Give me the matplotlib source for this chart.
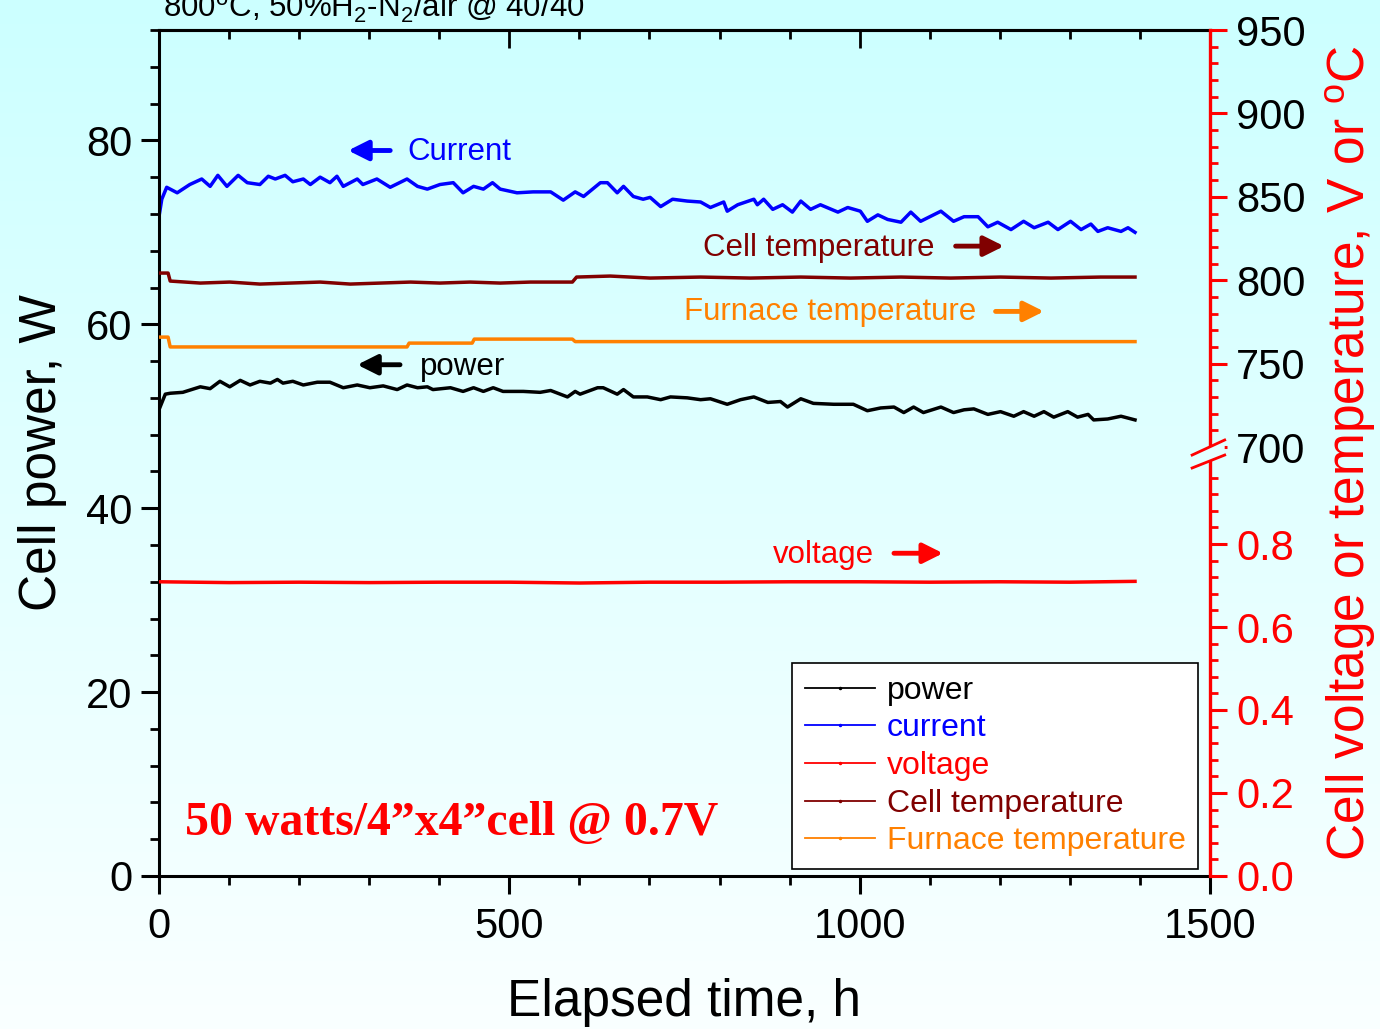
import numpy as np
import matplotlib.pyplot as plt
from matplotlib.lines import Line2D
from matplotlib.ticker import FixedLocator, MultipleLocator, FuncFormatter

plt.rcParams['font.family'] = ['Liberation Sans', 'DejaVu Sans']
plt.rcParams['mathtext.fontset'] = 'custom'
plt.rcParams['mathtext.rm'] = 'Liberation Sans'
plt.rcParams['mathtext.it'] = 'Liberation Sans:italic'

# ---- data (time in h) ----
t_cur = [0, 4, 11, 26, 44, 61, 73, 84, 97, 113, 126, 144, 156, 166, 180, 191, 206, 216, 230, 244,
         254, 263, 283, 291, 311, 330, 354, 369, 383, 401, 420, 434, 449, 463, 476, 487, 511, 534,
         559, 577, 594, 606, 630, 640, 654, 663, 677, 691, 701, 716, 733, 754, 773, 787, 806, 811,
         826, 849, 854, 863, 876, 890, 904, 916, 930, 944, 969, 983, 1001, 1011, 1026, 1040, 1059,
         1073, 1087, 1116, 1134, 1149, 1169, 1183, 1197, 1216, 1234, 1249, 1269, 1283, 1301, 1316,
         1330, 1340, 1354, 1373, 1383, 1393]
current = [71.7, 73.6, 74.9, 74.3, 75.2, 75.8, 75.0, 76.2, 75.0, 76.2, 75.4, 75.2, 76.1, 75.8, 76.2,
           75.5, 75.8, 75.2, 76.0, 75.4, 76.1, 75.0, 75.8, 75.2, 75.8, 74.9, 75.8, 75.0, 74.7, 75.2,
           75.4, 74.3, 75.0, 74.7, 75.4, 74.7, 74.3, 74.4, 74.4, 73.5, 74.4, 73.9, 75.4, 75.4, 74.3,
           75.0, 73.9, 73.6, 73.8, 72.8, 73.6, 73.4, 73.3, 72.7, 73.3, 72.3, 73.0, 73.6, 73.0, 73.6,
           72.5, 73.0, 72.2, 73.4, 72.5, 73.0, 72.2, 72.7, 72.3, 71.2, 71.9, 71.4, 71.1, 72.2, 71.2,
           72.3, 71.2, 71.7, 71.7, 70.6, 71.1, 70.3, 71.2, 70.5, 71.1, 70.3, 71.2, 70.3, 70.9, 70.1,
           70.5, 70.1, 70.5, 70.0]

t_pow = [0, 9, 16, 34, 59, 73, 87, 101, 116, 130, 144, 159, 169, 177, 191, 206, 226, 244, 263, 283,
         301, 320, 340, 354, 369, 383, 391, 416, 434, 449, 463, 477, 491, 520, 544, 559, 583, 594,
         601, 626, 634, 654, 663, 677, 697, 716, 730, 754, 773, 787, 811, 830, 849, 869, 887, 897,
         916, 934, 963, 991, 1011, 1030, 1049, 1063, 1077, 1091, 1116, 1134, 1149, 1163, 1183, 1201,
         1220, 1234, 1249, 1263, 1277, 1297, 1311, 1326, 1334, 1354, 1373, 1393]
power = [50.7, 52.4, 52.5, 52.6, 53.2, 53.0, 53.8, 53.2, 53.9, 53.4, 53.8, 53.6, 54.0, 53.6, 53.8,
         53.4, 53.7, 53.7, 53.1, 53.4, 53.1, 53.3, 52.9, 53.4, 53.1, 53.2, 52.9, 53.1, 52.7, 53.1,
         52.7, 53.1, 52.7, 52.7, 52.6, 52.8, 52.1, 52.7, 52.4, 53.1, 53.1, 52.4, 52.9, 52.1, 52.1,
         51.8, 52.1, 52.0, 51.8, 51.9, 51.3, 51.8, 52.1, 51.5, 51.6, 51.0, 51.9, 51.4, 51.3, 51.3,
         50.6, 50.9, 51.0, 50.4, 51.0, 50.4, 51.0, 50.4, 50.7, 50.8, 50.2, 50.5, 50.0, 50.5, 50.0,
         50.5, 49.9, 50.5, 49.9, 50.2, 49.6, 49.7, 50.0, 49.6]

t_cell = [0, 13, 16, 59, 101, 144, 187, 230, 273, 316, 359, 401, 444, 487, 530, 590, 596, 644, 701,
          773, 844, 916, 987, 1059, 1130, 1201, 1273, 1344, 1393]
cell_temp = [804.3, 804.3, 799.5, 798.3, 798.9, 797.7, 798.3, 798.9, 797.7, 798.3, 798.9, 798.3,
             798.9, 798.3, 798.9, 798.9, 801.9, 802.5, 801.3, 801.9, 801.3, 801.9, 801.3, 801.9,
             801.3, 801.9, 801.3, 801.9, 801.9]

t_furn = [0, 13, 16, 130, 244, 354, 357, 447, 450, 590, 594, 773, 1059, 1393]
furnace_temp = [765.9, 765.9, 760.0, 760.0, 760.0, 760.0, 762.3, 762.3, 764.7, 764.7, 763.2, 763.2,
                763.2, 763.2]

t_volt = [0, 100, 200, 300, 400, 500, 600, 700, 800, 900, 1000, 1100, 1200, 1300, 1393]
voltage = [0.709, 0.707, 0.708, 0.707, 0.708, 0.708, 0.706, 0.708, 0.708, 0.709, 0.709, 0.708,
           0.709, 0.708, 0.710]

left_ticks = [0, 20, 40, 60, 80]
volt_ticks = [0.0, 0.2, 0.4, 0.6, 0.8]
temp_ticks = [700, 750, 800, 850, 900, 950]
x_ticks = [0, 500, 1000, 1500]

BLUE = '#0000FF'
RED = '#FF0000'
DRED = '#800000'
ORANGE = '#FF8000'


# broken right axis: voltage 0..~1.03 on the lower half, 700..950 C on top
def fwd(y):
    y = np.asarray(y, float)
    return np.where(y < 350, y * 415.0, 429.0 + (y - 700.0) * 417.0 / 250.0)


def inv(p):
    p = np.asarray(p, float)
    return np.where(p <= 429.0, p / 415.0, 700.0 + (p - 429.0) * 250.0 / 417.0)


fig = plt.figure(figsize=(13.8, 10.29), dpi=100)

# light cyan gradient background
bg = fig.add_axes([0, 0, 1, 1], zorder=-10)
g = np.linspace(0, 1, 256)[:, None]
img = np.dstack([0.80 + 0.18 * g, np.ones_like(g), np.ones_like(g)])
bg.imshow(img, aspect='auto', extent=[0, 1, 0, 1], origin='upper')
bg.axis('off')

ax = fig.add_axes([0.1152, 0.1487, 0.7616, 0.8221])
ax.patch.set_alpha(0)
ax2 = ax.twinx()
ax2.patch.set_alpha(0)

ax.plot(t_cur, current, color=BLUE, lw=2.5)
ax.plot(t_pow, power, color='black', lw=2.5)
ax2.plot(t_volt, voltage, color=RED, lw=2.5)
ax2.plot(t_cell, cell_temp, color=DRED, lw=2.5)
ax2.plot(t_furn, furnace_temp, color=ORANGE, lw=2.5)

ax.set_xlim(0, 1500)
ax.set_ylim(0, 92)
ax.set_xticks(x_ticks)
ax.xaxis.set_minor_locator(MultipleLocator(100))
ax.set_yticks(left_ticks)
ax.yaxis.set_minor_locator(MultipleLocator(4))
ax.tick_params(which='major', direction='out', length=13, width=2.2, labelsize=30, pad=6)
ax.tick_params(which='minor', direction='out', length=6.5, width=2.0)
ax.tick_params(axis='x', which='major', pad=9)
for s in ['left', 'bottom', 'top']:
    ax.spines[s].set_linewidth(2.2)
ax.spines['right'].set_visible(False)

top = ax.secondary_xaxis('top')
top.set_xticks(x_ticks)
top.xaxis.set_minor_locator(MultipleLocator(100))
top.tick_params(which='major', direction='in', length=13, width=2.0, labeltop=False)
top.tick_params(which='minor', direction='in', length=6.5, width=2.0)
top.spines['top'].set_linewidth(2.2)

ax.set_xlabel('Elapsed time, h', fontsize=37, labelpad=23)
ax.set_ylabel('Cell power, W', fontsize=37, labelpad=14)

ax2.set_yscale('function', functions=(fwd, inv))
ax2.set_ylim(0, 950)
ax2.yaxis.set_major_locator(FixedLocator(volt_ticks + temp_ticks))
minor_v = [round(0.04 * i, 2) for i in range(1, 26) if i % 5]
minor_t = [v for v in range(710, 950, 10) if v % 50]
ax2.yaxis.set_minor_locator(FixedLocator(minor_v + minor_t))
ax2.yaxis.set_major_formatter(FuncFormatter(lambda v, p: f'{v:.1f}' if v < 100 else f'{v:.0f}'))
ax2.tick_params(which='major', direction='out', length=12, width=2.2, labelsize=30, pad=7, color=RED)
ax2.tick_params(which='minor', direction='out', length=6, width=2.0, color=RED)
for s in ['left', 'bottom', 'top']:
    ax2.spines[s].set_visible(False)
ax2.spines['right'].set_color(RED)
ax2.spines['right'].set_linewidth(2.4)
for lab, v in zip(ax2.get_yticklabels(), volt_ticks + temp_ticks):
    lab.set_color(RED if v < 100 else 'black')
ax2.set_ylabel(r'Cell voltage or temperature, V or $^{\rm o}$C', fontsize=37, color=RED,
               labelpad=12)

# axis break marks on the right spine
tr = ax2.transAxes
bgc = (0.89, 1, 1)
ax2.add_patch(plt.Polygon([(0.983, 0.4976), (1.014, 0.5154), (1.014, 0.4976), (0.983, 0.4823)],
                          closed=True, transform=tr, facecolor=bgc, edgecolor='none',
                          clip_on=False, zorder=5))
ax2.plot([0.983, 1.014], [0.4976, 0.5154], transform=tr, color=RED, lw=2, clip_on=False, zorder=6)
ax2.plot([0.983, 1.014], [0.4823, 0.4976], transform=tr, color=RED, lw=2, clip_on=False, zorder=6)


def tag(axis, x, y, text, color, x0, x1, ay):
    axis.text(x, y, text, color=color, fontsize=22.5, va='center')
    axis.annotate('', xy=(x1, ay), xytext=(x0, ay),
                  arrowprops=dict(arrowstyle='-|>,head_length=0.8,head_width=0.4', lw=3.5,
                                  color=color, mutation_scale=15, shrinkA=0, shrinkB=0))


tag(ax, 354, 78.7, 'Current', BLUE, 330, 270, 78.9)
tag(ax, 777, 68.35, 'Cell temperature', DRED, 1137, 1206, 68.5)
tag(ax, 749, 61.3, 'Furnace temperature', ORANGE, 1194, 1263, 61.4)
tag(ax, 373, 55.4, 'power', 'black', 344, 283, 55.6)
tag(ax, 876, 34.9, 'voltage', RED, 1049, 1119, 35.1)

ax.text(37, 4.5, '50 watts/4\u201dx4\u201dcell @ 0.7V', family='Liberation Serif',
        weight='bold', fontsize=34.5, color=RED)

fig.text(163 / 1380, 1 - 18 / 1029, r'800$^{\rm o}$C, 50%H$_2$-N$_2$/air @ 40/40',
         fontsize=22.5, va='baseline')

names = ['power', 'current', 'voltage', 'Cell temperature', 'Furnace temperature']
cols = ['black', BLUE, RED, DRED, ORANGE]
handles = [Line2D([], [], color=c, lw=1.3, marker='.', markersize=3) for c in cols]
leg = ax2.legend(handles, names, loc='lower right', bbox_to_anchor=(0.989, 0.008),
                 borderaxespad=0, fontsize=23, handlelength=2.2, handletextpad=0.36,
                 labelspacing=0.24, borderpad=0.4, fancybox=False, framealpha=1,
                 edgecolor='black', markerscale=1)
leg.get_frame().set_linewidth(1.2)
for txt, c in zip(leg.get_texts(), cols):
    txt.set_color(c)

fig.savefig('out.png', dpi=100)
